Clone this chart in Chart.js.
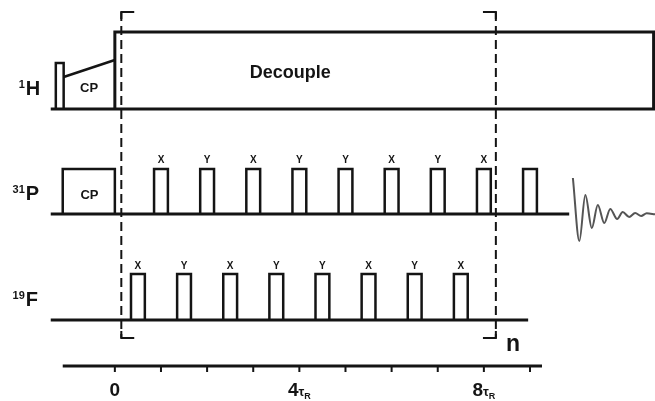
<!DOCTYPE html>
<html>
<head>
<meta charset="utf-8">
<script src="https://cdn.jsdelivr.net/npm/chart.js@4.4.0/dist/chart.umd.min.js"></script>
<style>
  html, body { margin: 0; padding: 0; background: #fff; }
  #wrap { width: 655px; height: 401px; }
</style>
</head>
<body>
<div id="wrap"><canvas id="seqChart" width="655" height="401"></canvas></div>
<script>
// time axis in units of tau_R, amplitude in arbitrary units (channels stacked)
const channelSup = ['1', '31', '19'];
const channelMain = ['H', 'P', 'F'];
const baselines = [29.2, 18.7, 8.1];      // 1H, 31P, 19F
const baselineStart = -1.39;
const baselineEnd = [11.71, 9.85, 8.96];

// 1H: short pulse, CP ramp, then decoupling block
const hPulse = [-1.28, -1.11];
const hPulseTop = 33.8;
const hRampStart = 32.4;
const hRampEnd = 34.1;
const decoupleStart = 0;
const decoupleEnd = 11.68;
const decoupleTop = 36.9;

// 31P: CP block and rotor-synchronised pulses
const pCP = [-1.13, 0];
const pTop = 23.2;
const pPulseTimes = [1, 2, 3, 4, 5, 6, 7, 8, 9];
const pPhases = ['X', 'Y', 'X', 'Y', 'Y', 'X', 'Y', 'X', ''];

// 19F: pulses at half rotor periods
const fTop = 12.7;
const fPulseTimes = [0.5, 1.5, 2.5, 3.5, 4.5, 5.5, 6.5, 7.5];
const fPhases = ['X', 'Y', 'X', 'Y', 'Y', 'X', 'Y', 'X'];
const pulseWidth = 0.3;

// FID on the 31P channel
const fidTime = [9.93, 10.07, 10.20, 10.34, 10.47, 10.61, 10.74, 10.89, 11.01, 11.15, 11.28, 11.41, 11.53, 11.71];
const fidAmp  = [3.6, -2.7, 1.9, -1.4, 0.9, -0.9, 0.5, -0.5, 0.2, -0.3, 0.1, -0.2, 0.07, -0.03];

// loop bracket (n repeats)
const loopStart = 0.14;
const loopEnd = 8.26;
const loopTop = 38.9;
const loopBottom = 6.3;
const hookLen = 0.28;

// time axis
const axisLevel = 3.5;
const axisStart = -1.13;
const axisEnd = 9.26;
const tickTimes = [0, 1, 2, 3, 4, 5, 6, 7, 8, 9];
const tickLabelTimes = [0, 4, 8];
const tickLabelNums = ['0', '4', '8'];

const FONT = '"Liberation Sans", Arial, Helvetica, sans-serif';
const INK = '#141414';

const datasets = [];
function addLine(points, opts) {
  datasets.push(Object.assign({
    data: points.map(p => ({ x: p[0], y: p[1] })),
    showLine: true,
    borderColor: INK,
    borderWidth: 2.5,
    pointRadius: 0,
    fill: false,
    tension: 0,
    borderJoinStyle: 'miter',
    borderCapStyle: 'butt'
  }, opts || {}));
}
function addPulse(c, base, top) {
  const a = c - pulseWidth / 2, b = c + pulseWidth / 2;
  addLine([[a, base], [a, top], [b, top], [b, base]]);
}

// baselines
baselines.forEach((b, i) => addLine([[baselineStart, b], [baselineEnd[i], b]], { borderWidth: 3 }));

// 1H
addLine([[hPulse[0], baselines[0]], [hPulse[0], hPulseTop], [hPulse[1], hPulseTop], [hPulse[1], baselines[0]]]);
addLine([[hPulse[1], hRampStart], [decoupleStart, hRampEnd]]);
addLine([[decoupleStart, baselines[0]], [decoupleStart, decoupleTop], [decoupleEnd, decoupleTop], [decoupleEnd, baselines[0]]], { borderWidth: 3 });

// 31P
addLine([[pCP[0], baselines[1]], [pCP[0], pTop], [pCP[1], pTop], [pCP[1], baselines[1]]]);
pPulseTimes.forEach(t => addPulse(t, baselines[1], pTop));
addLine(fidTime.map((t, i) => [t, baselines[1] + fidAmp[i]]), {
  borderColor: '#555', borderWidth: 2, cubicInterpolationMode: 'monotone', borderJoinStyle: 'round'
});

// 19F
fPulseTimes.forEach(t => addPulse(t, baselines[2], fTop));

// loop bracket
addLine([[loopStart, loopTop], [loopStart, loopBottom]], { borderWidth: 2, borderDash: [9, 5] });
addLine([[loopEnd, loopTop], [loopEnd, loopBottom]], { borderWidth: 2, borderDash: [9, 5] });
addLine([[loopStart + hookLen, loopTop], [loopStart, loopTop], [loopStart, loopTop - 0.7]], { borderWidth: 2 });
addLine([[loopStart + hookLen, loopBottom], [loopStart, loopBottom], [loopStart, loopBottom + 0.7]], { borderWidth: 2 });
addLine([[loopEnd - hookLen, loopTop], [loopEnd, loopTop], [loopEnd, loopTop - 0.7]], { borderWidth: 2 });
addLine([[loopEnd - hookLen, loopBottom], [loopEnd, loopBottom], [loopEnd, loopBottom + 0.7]], { borderWidth: 2 });

// time axis
addLine([[axisStart, axisLevel], [axisEnd, axisLevel]], { borderWidth: 3 });
tickTimes.forEach(t => addLine([[t, axisLevel], [t, axisLevel - 0.6]], { borderWidth: 2 }));

const textPlugin = {
  id: 'seqText',
  afterDatasetsDraw(chart) {
    const { ctx, scales: { x, y } } = chart;
    ctx.save();
    ctx.fillStyle = INK;
    ctx.textBaseline = 'alphabetic';

    // nucleus labels
    channelMain.forEach((m, i) => {
      const px = x.getPixelForValue(-1.93);
      const py = y.getPixelForValue(baselines[i] + 1.4);
      ctx.font = `bold 20px ${FONT}`;
      ctx.textAlign = 'left';
      ctx.fillText(m, px, py);
      ctx.font = `bold 11px ${FONT}`;
      ctx.textAlign = 'right';
      ctx.fillText(channelSup[i], px - 1, py - 7);
    });

    ctx.textAlign = 'center';
    ctx.textBaseline = 'middle';
    ctx.font = `bold 18px ${FONT}`;
    ctx.fillText('Decouple', x.getPixelForValue(3.8), y.getPixelForValue(32.8));

    ctx.font = `bold 13px ${FONT}`;
    ctx.fillText('CP', x.getPixelForValue(-0.56), y.getPixelForValue(baselines[0] + 2.1));
    ctx.fillText('CP', x.getPixelForValue(-0.55), y.getPixelForValue(baselines[1] + 1.9));

    // phase labels
    ctx.font = `bold 10px ${FONT}`;
    pPulseTimes.forEach((t, i) => {
      if (pPhases[i]) ctx.fillText(pPhases[i], x.getPixelForValue(t), y.getPixelForValue(pTop + 0.85));
    });
    fPulseTimes.forEach((t, i) => {
      ctx.fillText(fPhases[i], x.getPixelForValue(t), y.getPixelForValue(fTop + 0.8));
    });

    ctx.font = `bold 23px ${FONT}`;
    ctx.fillText('n', x.getPixelForValue(8.63), y.getPixelForValue(5.6));

    // tick labels with tau_R subscript
    ctx.textAlign = 'left';
    ctx.textBaseline = 'alphabetic';
    const by = y.getPixelForValue(0.5);
    tickLabelTimes.forEach((t, i) => {
      const runs = [{ text: tickLabelNums[i], size: 19, dy: 0 }];
      if (t !== 0) {
        runs.push({ text: 'τ', size: 13, dy: 0 });
        runs.push({ text: 'R', size: 9, dy: 3 });
      }
      let total = 0;
      runs.forEach(r => { ctx.font = `bold ${r.size}px ${FONT}`; r.w = ctx.measureText(r.text).width; total += r.w; });
      let px = x.getPixelForValue(t) - total / 2;
      runs.forEach(r => {
        ctx.font = `bold ${r.size}px ${FONT}`;
        ctx.fillText(r.text, px, by + r.dy);
        px += r.w;
      });
    });
    ctx.restore();
  }
};

new Chart(document.getElementById('seqChart'), {
  type: 'scatter',
  data: { datasets },
  options: {
    responsive: false,
    animation: false,
    layout: { padding: 0 },
    plugins: { legend: { display: false }, tooltip: { enabled: false } },
    scales: {
      x: { type: 'linear', min: -2.49, max: 11.71, display: false },
      y: { type: 'linear', min: 0, max: 40.1, display: false }
    }
  },
  plugins: [textPlugin]
});
</script>
</body>
</html>
